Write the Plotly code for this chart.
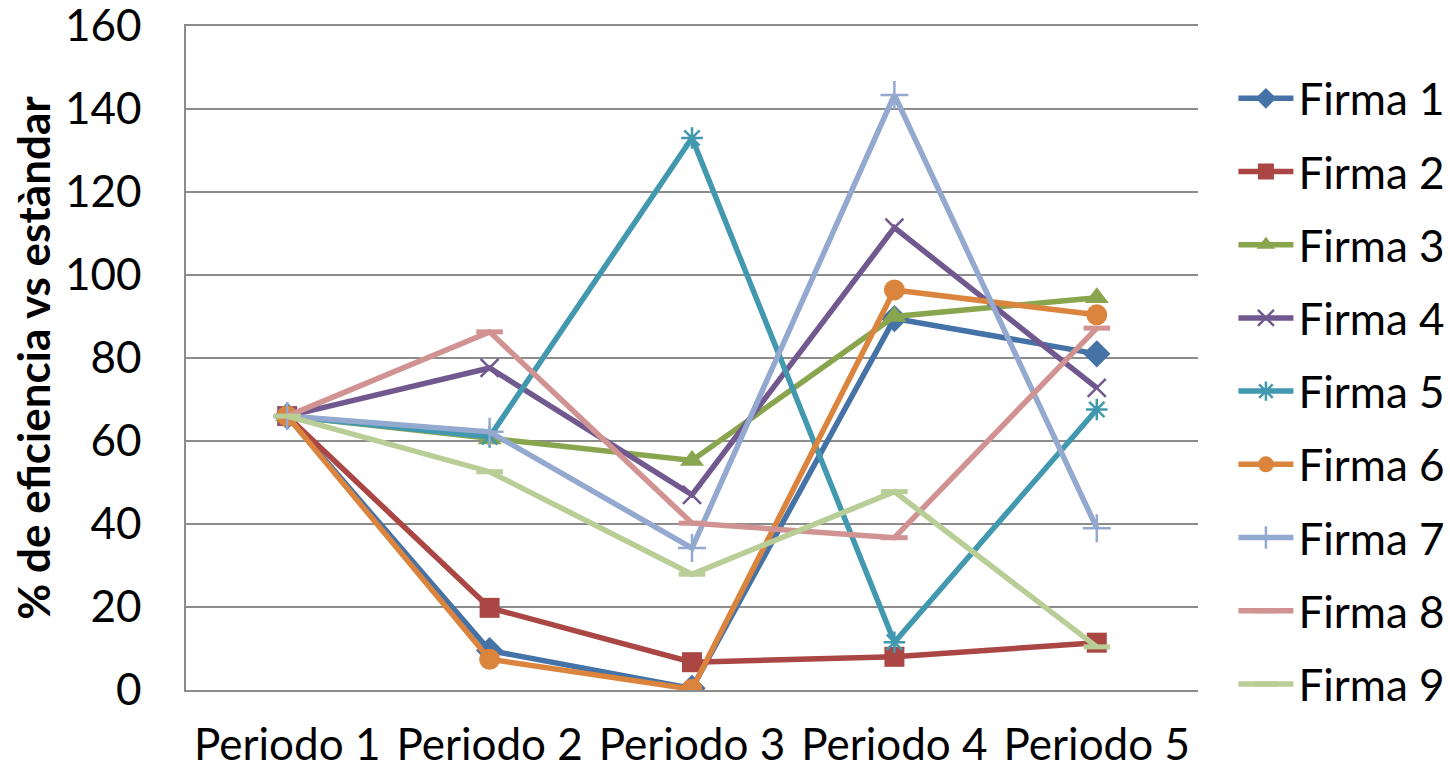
import plotly.graph_objects as go

periods = ["Periodo 1", "Periodo 2", "Periodo 3", "Periodo 4", "Periodo 5"]
firma_names = ["Firma 1", "Firma 2", "Firma 3", "Firma 4", "Firma 5",
               "Firma 6", "Firma 7", "Firma 8", "Firma 9"]
y_ticks = [0, 20, 40, 60, 80, 100, 120, 140, 160]

firma1 = [66, 9.5, 0.4, 89.5, 81]
firma2 = [66, 19.8, 6.7, 8.0, 11.4]
firma3 = [66, 60.5, 55.3, 90, 94.5]
firma4 = [66, 77.6, 47, 111.4, 72.8]
firma5 = [66, 61, 133, 11.5, 67.6]
firma6 = [66, 7.4, 0.2, 96.4, 90.4]
firma7 = [66, 62.2, 34.2, 143.4, 39]
firma8 = [66, 86.3, 40.2, 36.7, 87.2]
firma9 = [66, 52.6, 27.9, 47.8, 10.4]

series = [firma1, firma2, firma3, firma4, firma5, firma6, firma7, firma8, firma9]
colors = ["#4572A7", "#AA4643", "#89A54E", "#71588F", "#4198AF",
          "#DB843D", "#93A9CF", "#D19392", "#B9CD96"]
symbols = ["diamond", "square", "triangle-up", "x-thin", "asterisk",
           "circle", "cross-thin", "line-ew", "line-ew"]
sizes = [21, 20, 21, 18, 18, 21, 20, 19, 19]

fig = go.Figure()
for name, vals, col, sym, sz in zip(firma_names, series, colors, symbols, sizes):
    thin = sym in ("x-thin", "asterisk", "cross-thin", "line-ew")
    lw = 5 if sym == "line-ew" else (2.5 if thin else 0)
    fig.add_trace(go.Scatter(
        x=periods, y=vals, name=name, mode="lines+markers",
        line=dict(color=col, width=5.5),
        marker=dict(symbol=sym, size=sz, color=col,
                    line=dict(color=col, width=lw)),
        legendgroup=name,
    ))

font_family = "Lato, Carlito, Calibri, sans-serif"
fig.update_layout(
    width=1450, height=771,
    margin=dict(l=186, r=252, t=26, b=81, autoexpand=False),
    paper_bgcolor="white", plot_bgcolor="white",
    font=dict(family=font_family, size=44, color="black"),
    showlegend=True,
    legend=dict(x=1.035, y=0.45, xanchor="left", yanchor="middle",
                font=dict(size=44, family=font_family),
                tracegroupgap=13, itemwidth=55,
                bgcolor="rgba(0,0,0,0)"),
    xaxis=dict(showgrid=False, showline=True, mirror=True,
               linecolor="#8C8C8C", linewidth=1.5, ticks="",
               tickfont=dict(size=44), ticklabelstandoff=15,
               range=[-0.5, 4.5], zeroline=False, automargin=False),
    yaxis=dict(range=[0, 160], tickmode="array", tickvals=y_ticks,
               showgrid=True, gridcolor="#8C8C8C",
               gridwidth=1.5, showline=True, linecolor="#8C8C8C",
               linewidth=1.5, ticks="", ticklabelstandoff=34,
               ticklabeloverflow="allow",
               tickfont=dict(size=44), zeroline=False, automargin=False,
               title=dict(text="<b>% de eficiencia vs estàndar</b>",
                          font=dict(size=44, family=font_family),
                          standoff=0)),
)

fig.write_html(
    "out.html",
    config={"displayModeBar": False},
    post_script="document.body.style.margin='0';document.body.style.overflow='hidden';",
)
